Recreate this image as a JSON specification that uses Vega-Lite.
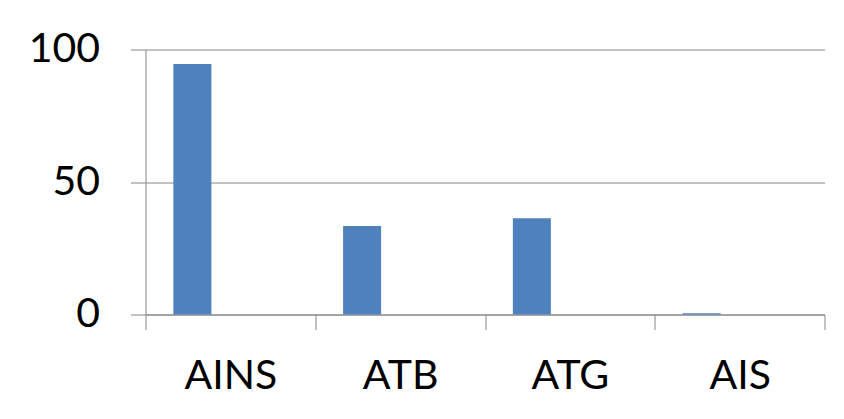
{
  "$schema": "https://vega.github.io/schema/vega-lite/v6.json",
  "autosize": "none",
  "padding": {"left": 145.5, "top": 49.5, "right": 19.5, "bottom": 104.5},
  "width": 679,
  "height": 265,
  "background": "white",
  "data": {
    "values": [
      {"category": "AINS", "series": "S1", "value": 94.5},
      {"category": "ATB", "series": "S1", "value": 33.4},
      {"category": "ATG", "series": "S1", "value": 36.3},
      {"category": "AIS", "series": "S1", "value": 0.5}
    ]
  },
  "mark": {"type": "bar", "color": "#4F81BD"},
  "encoding": {
    "x": {
      "field": "category",
      "type": "nominal",
      "sort": ["AINS", "ATB", "ATG", "AIS"],
      "scale": {"paddingInner": 0, "paddingOuter": 0},
      "axis": {
        "title": null,
        "labelAngle": 0,
        "tickBand": "extent",
        "tickSize": 15,
        "tickColor": "#868686",
        "domainColor": "#868686",
        "labelFont": "Lato",
        "labelFontSize": 41,
        "labelColor": "#000000",
        "labelPadding": 27,
        "grid": false
      }
    },
    "xOffset": {
      "field": "series",
      "type": "nominal",
      "scale": {"domain": ["S1", "S2", "S3"], "paddingInner": 0, "paddingOuter": 0.733}
    },
    "y": {
      "field": "value",
      "type": "quantitative",
      "scale": {"domain": [0, 100], "nice": false},
      "axis": {
        "title": null,
        "values": [0, 50, 100],
        "tickSize": 15,
        "tickColor": "#868686",
        "domainColor": "#868686",
        "gridColor": "#868686",
        "grid": true,
        "labelFont": "Lato",
        "labelFontSize": 41,
        "labelColor": "#000000",
        "labelPadding": 31
      }
    }
  },
  "config": {
    "view": {"stroke": null},
    "axis": {"domainWidth": 1, "tickWidth": 1, "gridWidth": 1}
  }
}
